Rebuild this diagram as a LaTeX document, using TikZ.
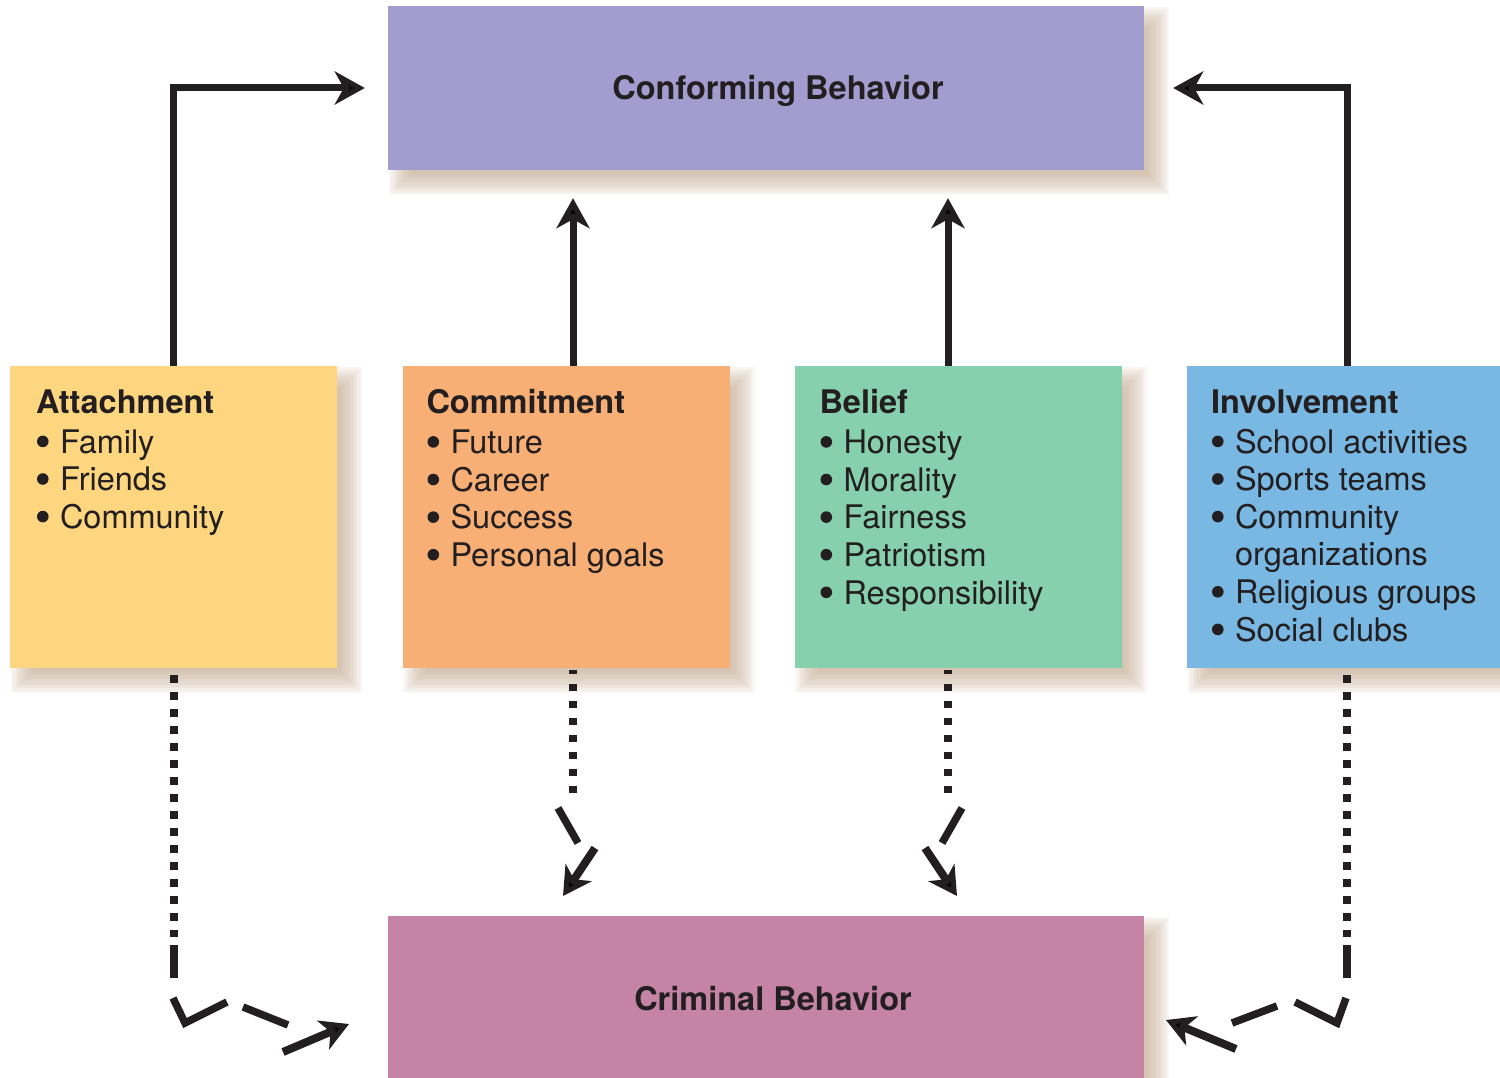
\documentclass[tikz,border=0pt]{standalone}
\usepackage{fontspec}
\setmainfont{TeX Gyre Heros}
\usetikzlibrary{arrows.meta,calc,backgrounds}
\definecolor{confc}{HTML}{A29CCF}
\definecolor{attc}{HTML}{FED67F}
\definecolor{comc}{HTML}{F8AF76}
\definecolor{belc}{HTML}{86D0AE}
\definecolor{invc}{HTML}{78B8E3}
\definecolor{crimc}{HTML}{C584A5}
\definecolor{shadowc}{HTML}{C4AB92}
\definecolor{ink}{HTML}{231F20}
\newcommand\mybul{\makebox[24pt][l]{\hspace*{1pt}\raisebox{6pt}{\tikz[x=1pt,y=1pt]\fill[ink] (0,0) circle (5.8pt);}}}
\newcommand\boxshadow[1]{%
  \foreach \d in {-12,-9.6,...,12}{%
    \fill[shadowc,opacity=0.11] ($(#1.north west)+(13-\d,13-\d)$) rectangle ($(#1.south east)+(13+\d,13+\d)$);}}
\tikzset{
  box/.style={rectangle,inner sep=0pt,draw=none,minimum width=327pt,minimum height=302pt},
  wide/.style={rectangle,inner sep=0pt,draw=none,minimum width=756pt,minimum height=164pt},
  lbl/.style={anchor=north west,inner sep=0pt,align=left,text=ink,font=\fontsize{32.5}{37.6}\selectfont},
  title/.style={anchor=base,inner sep=0pt,text=ink,font=\fontsize{32.5}{37.6}\selectfont\bfseries},
  arr/.style={draw=ink,line width=7pt,line join=miter,-{Stealth[length=30pt,width=33pt,inset=9pt]}},
  arrb/.style={draw=ink,line width=8pt,-{Stealth[length=28pt,width=31pt,inset=8pt]}},
  dotline/.style={draw=ink,line width=7.5pt,dash pattern=on 7.5pt off 9.5pt},
  seg/.style={draw=ink,line width=7.5pt,line join=miter,miter limit=10}
}
\begin{document}
\begin{tikzpicture}[x=1pt,y=-1pt]
\useasboundingbox (0,0) rectangle (1500,1078);
\clip (0,0) rectangle (1500,1078);
% boxes
\node[wide,fill=confc] (conf) at (766,88) {};
\node[box,fill=attc] (att) at (173.5,517) {};
\node[box,fill=comc] (com) at (566,517) {};
\node[box,fill=belc] (bel) at (958,517) {};
\node[box,fill=invc] (inv) at (1350.5,517) {};
\node[wide,fill=crimc] (crim) at (766,998) {};
\begin{scope}[on background layer]
\boxshadow{conf}
\boxshadow{att}
\boxshadow{com}
\boxshadow{bel}
\boxshadow{inv}
\boxshadow{crim}
\end{scope}
% titles
\node[title] (confT) at (778,100) {Conforming Behavior};
\node[title] (crimT) at (773,1010) {Criminal Behavior};
% box texts
\node[lbl] (attT) at ($(att.north west)+(26,23.5)$) {{\bfseries Attachment}\\[2.4pt]
\mybul Family\\ \mybul Friends\\ \mybul Community};
\node[lbl] (comT) at ($(com.north west)+(24,23.5)$) {{\bfseries Commitment}\\[2.4pt]
\mybul Future\\ \mybul Career\\ \mybul Success\\ \mybul Personal goals};
\node[lbl] (belT) at ($(bel.north west)+(25,23.5)$) {{\bfseries Belief}\\[2.4pt]
\mybul Honesty\\ \mybul Morality\\ \mybul Fairness\\ \mybul Patriotism\\ \mybul Responsibility};
\node[lbl] (invT) at ($(inv.north west)+(24,23.5)$) {{\bfseries Involvement}\\[2.4pt]
\mybul School activities\\ \mybul Sports teams\\ \mybul Community\\ \hspace*{24pt}organizations\\ \mybul Religious groups\\ \mybul Social clubs};
% solid arrows to conforming behavior
\draw[arr,shorten >=23pt] (att.north) |- (conf.west);
\draw[arr,shorten >=28pt] ([xshift=7pt]com.north) -- ([xshift=7pt]com.north |- conf.south);
\draw[arr,shorten >=28pt] ([xshift=-10pt]bel.north) -- ([xshift=-10pt]bel.north |- conf.south);
\draw[arr,shorten >=29pt] ([xshift=-3.5pt]inv.north) |- (conf.east);
% broken connectors to criminal behavior
% attachment
\coordinate (a1) at (174,937);
\coordinate (a2) at (174,945);
\coordinate (a3) at (174,978);
\coordinate (a4) at (173,998);
\coordinate (a5) at (185,1023);
\coordinate (a6) at (227,1002);
\coordinate (a7) at (243,1007);
\coordinate (a8) at (288,1025);
\coordinate (a9) at (283,1052);
\coordinate (a10) at (349,1024);
\draw[dotline] ($(att.south)+(0.5,7)$) -- (a1);
\draw[seg] (a2) -- (a3);
\draw[seg] (a4) -- (a5) -- (a6);
\draw[seg] (a7) -- (a8);
\draw[arrb] (a9) -- (a10);
% commitment
\coordinate (c1) at (573,793);
\coordinate (c2) at (558,808);
\coordinate (c3) at (578,843);
\coordinate (c4) at (595,848);
\coordinate (c5) at (563,896);
\draw[dotline,dash phase=3.5pt] ($(com.south)+(7,2)$) -- (c1);
\draw[seg] (c2) -- (c3);
\draw[arrb] (c4) -- (c5);
% belief
\coordinate (b1) at (948,793);
\coordinate (b2) at (962,808);
\coordinate (b3) at (942,843);
\coordinate (b4) at (925,848);
\coordinate (b5) at (957,896);
\draw[dotline,dash phase=3.5pt] ($(bel.south)+(-10,2)$) -- (b1);
\draw[seg] (b2) -- (b3);
\draw[arrb] (b4) -- (b5);
% involvement
\coordinate (i1) at (1347,937);
\coordinate (i2) at (1347,945);
\coordinate (i3) at (1347,978);
\coordinate (i4) at (1346,998);
\coordinate (i5) at (1337,1023);
\coordinate (i6) at (1295,1002);
\coordinate (i7) at (1277,1006);
\coordinate (i8) at (1232,1023);
\coordinate (i9) at (1236,1049);
\coordinate (i10) at (1166,1020);
\draw[dotline] ($(inv.south)+(-3.5,7)$) -- (i1);
\draw[seg] (i2) -- (i3);
\draw[seg] (i4) -- (i5) -- (i6);
\draw[seg] (i7) -- (i8);
\draw[arrb] (i9) -- (i10);
\end{tikzpicture}
\end{document}
